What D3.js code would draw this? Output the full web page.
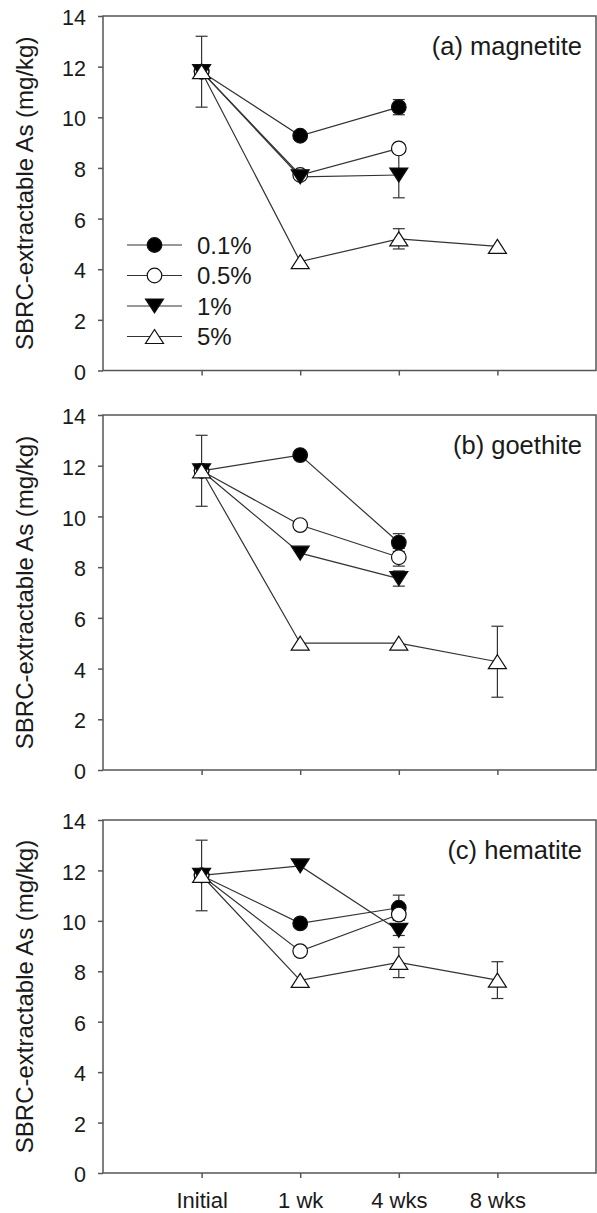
<!DOCTYPE html>
<html>
<head>
<meta charset="utf-8">
<script src="https://cdn.jsdelivr.net/npm/d3@7"></script>
<style>
  body { margin: 0; background: #fff; }
  text { font-family: "Liberation Sans", Arial, sans-serif; fill: #1a1a1a; }
  .frame { fill: none; stroke: #555; stroke-width: 1.5px; }
  .axis path { display: none; }
  .axis line { stroke: #555; stroke-width: 1.5px; }
  .link { fill: none; stroke: #333; stroke-width: 1.2px; }
  .err { stroke: #333; stroke-width: 1.2px; }
</style>
</head>
<body>
<script>
var width = 597, height = 1213;

// categories and series
var categories = ["Initial", "1 wk", "4 wks", "8 wks"];
var series = ["0.1%", "0.5%", "1%", "5%"];
var panelNames = ["(a) magnetite", "(b) goethite", "(c) hematite"];
var yTicks = [0, 2, 4, 6, 8, 10, 12, 14];

// values per panel, one row per series (null = not measured)
var magnetite = [
  [11.8, 9.27, 10.4, null],
  [11.8, 7.72, 8.77, null],
  [11.8, 7.65, 7.72, null],
  [11.8, 4.3, 5.2, 4.9]
];
var magnetiteErr = [
  [0, 0, 0.3, 0],
  [0, 0, 0.1, 0],
  [0, 0, 0.9, 0],
  [1.4, 0, 0.4, 0]
];
var goethite = [
  [11.8, 12.42, 8.97, null],
  [11.8, 9.66, 8.39, null],
  [11.8, 8.55, 7.55, null],
  [11.8, 5.0, 5.0, 4.27]
];
var goethiteErr = [
  [0, 0, 0.35, 0],
  [0, 0, 0.35, 0],
  [0, 0, 0.3, 0],
  [1.4, 0, 0, 1.4]
];
var hematite = [
  [11.8, 9.9, 10.52, null],
  [11.8, 8.8, 10.25, null],
  [11.8, 12.18, 9.62, null],
  [11.8, 7.64, 8.35, 7.65]
];
var hematiteErr = [
  [0, 0, 0.5, 0],
  [0, 0, 0.2, 0],
  [0, 0, 0.2, 0],
  [1.4, 0, 0.6, 0.73]
];

var panelData = [magnetite, goethite, hematite];
var panelErr = [magnetiteErr, goethiteErr, hematiteErr];

var left = 103, right = 596;
var tops = [16, 415, 820];
var bottoms = [370.5, 770, 1173];

var x = d3.scalePoint().domain(categories).range([left, right]).padding(1);

var svg = d3.select("body").append("svg")
    .attr("width", width)
    .attr("height", height);

// marker shapes
function marker(sel, s) {
  if (s == 0 || s == 1) {
    sel.append("circle").attr("r", 7.3)
      .attr("fill", s == 0 ? "#000" : "#fff")
      .attr("stroke", "#111").attr("stroke-width", 1.2);
  } else if (s == 2) {
    sel.append("path").attr("d", "M-9,-7L9,-7L0,7Z")
      .attr("fill", "#000").attr("stroke", "#111").attr("stroke-width", 1.2);
  } else {
    sel.append("path").attr("d", "M0,-7L9,7L-9,7Z")
      .attr("fill", "#fff").attr("stroke", "#111").attr("stroke-width", 1.2);
  }
}

panelData.forEach(function(data, p) {
  var y = d3.scaleLinear().domain([0, 14]).range([bottoms[p], tops[p]]);
  var g = svg.append("g");

  g.append("g").attr("class", "axis")
    .attr("transform", "translate(" + left + ",0)")
    .call(d3.axisLeft(y).tickValues(yTicks).tickSize(5).tickSizeOuter(0).tickPadding(12))
    .selectAll("text").style("font-size", "21.5px").attr("dy", "0.4em");

  var xa = g.append("g").attr("class", "axis")
    .attr("transform", "translate(0," + bottoms[p] + ")")
    .call(d3.axisBottom(x).tickSize(5).tickSizeOuter(0).tickPadding(14));
  xa.selectAll("text").style("font-size", "22px");
  if (p < 2) xa.selectAll("text").remove();

  g.append("rect").attr("class", "frame")
    .attr("x", left).attr("y", tops[p])
    .attr("width", right - left).attr("height", bottoms[p] - tops[p]);

  // y title
  g.append("text")
    .attr("transform", "translate(33," + (tops[p] + bottoms[p]) / 2 + ") rotate(-90)")
    .attr("text-anchor", "middle")
    .style("font-size", "24px")
    .text("SBRC-extractable As (mg/kg)");

  g.append("text")
    .attr("x", 582).attr("y", tops[p] + 39)
    .attr("text-anchor", "end")
    .style("font-size", "25.5px")
    .text(panelNames[p]);

  var line = d3.line()
    .defined(function(d) { return d != null; })
    .x(function(d, i) { return x(categories[i]); })
    .y(function(d) { return y(d); });

  data.forEach(function(vals, s) {
    g.append("path").attr("class", "link").attr("d", line(vals));
  });

  data.forEach(function(vals, s) {
    vals.forEach(function(v, i) {
      var e = panelErr[p][s][i];
      if (v == null || !e) return;
      var cx = x(categories[i]);
      g.append("line").attr("class", "err")
        .attr("x1", cx).attr("x2", cx).attr("y1", y(v - e)).attr("y2", y(v + e));
      [v - e, v + e].forEach(function(w) {
        g.append("line").attr("class", "err")
          .attr("x1", cx - 6).attr("x2", cx + 6).attr("y1", y(w)).attr("y2", y(w));
      });
    });
  });

  data.forEach(function(vals, s) {
    vals.forEach(function(v, i) {
      if (v == null) return;
      var m = g.append("g").attr("transform", "translate(" + x(categories[i]) + "," + y(v) + ")");
      marker(m, s);
    });
  });

  // legend only in first panel
  if (p == 0) {
    var rows = [245, 275.5, 306, 336.5];
    series.forEach(function(name, s) {
      var lg = svg.append("g").attr("transform", "translate(0," + rows[s] + ")");
      lg.append("line").attr("x1", 127).attr("x2", 182).attr("y1", 0).attr("y2", 0)
        .attr("stroke", "#333").attr("stroke-width", 1.2);
      var m = lg.append("g").attr("transform", "translate(154.5,0)");
      marker(m, s);
      lg.append("text").attr("x", 197).attr("y", 0).attr("dy", "0.36em")
        .style("font-size", "24px").text(name);
    });
  }
});
</script>
</body>
</html>
